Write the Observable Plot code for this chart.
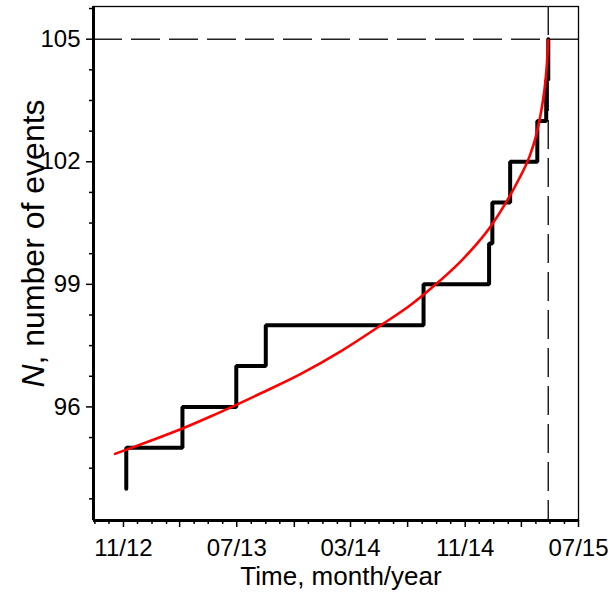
<!DOCTYPE html>
<html><head><meta charset="utf-8">
<script src="https://cdn.jsdelivr.net/npm/d3@7"></script>
<script src="https://cdn.jsdelivr.net/npm/@observablehq/plot@0.6"></script>
<style>body{margin:0;background:#fff} svg{display:block}</style>
</head><body><div id="chart"></div>
<script>
// Observed events (date of event, cumulative count after it)
const stepDates = ["2012-11-07","2012-11-07","2013-03-07","2013-06-30","2013-09-01","2014-08-04","2014-12-22","2014-12-29","2015-02-05","2015-04-04","2015-04-23","2015-04-27T10:00"];
const stepN = [94,95,96,97,98,99,100,101,102,103,104,105];
// Fitted curve (red)
const fitDates = ["2012-10-14","2012-12-29","2013-03-07","2013-05-07","2013-06-30","2013-09-01","2013-11-15","2014-02-08","2014-05-05","2014-07-08","2014-08-24","2014-10-23","2014-11-28","2014-12-26","2015-01-27","2015-02-23","2015-03-19","2015-04-01","2015-04-08","2015-04-15","2015-04-21","2015-04-24T14:00","2015-04-27T10:00"];
const fitN = [94.85,95.17,95.47,95.77,96.05,96.39,96.81,97.36,98.0,98.5,98.94,99.57,100.02,100.43,101.0,101.56,102.15,102.62,102.98,103.42,103.93,104.4,104.97];
const failureDate = "2015-04-27T10:00";
const failureN = 105;
const xLabelTicks = ["2012-11-01","2013-07-01","2014-03-01","2014-11-01","2015-07-01"];
const yLabelTicks = [96, 99, 102, 105];
const xDomain = ["2012-08-29","2015-07-01"];
const yDomain = [93.22, 105.8];
const xTitle = "Time, month/year";
const yTitle = ["N", ", number of events"];

const D = s => new Date(s.length > 10 ? s + ":00Z" : s + "T00:00:00Z");
const steps = stepDates.map((d, i) => ({t: D(d), n: stepN[i]}));
const fit = fitDates.map((d, i) => ({t: D(d), n: fitN[i]}));
const x0 = D(xDomain[0]), x1 = D(xDomain[1]);
const monthTicks = d3.utcMonth.range(d3.utcMonth.ceil(x0), d3.utcDay.offset(x1, 1));
const majorMonthTicks = monthTicks.filter(d => (d.getUTCMonth() + 2) % 4 === 0);
const minorMonthTicks = monthTicks.filter(d => (d.getUTCMonth() + 2) % 4 !== 0);
const yMinor = d3.range(0, 17).map(k => 93.75 + 0.75 * k).filter(v => v <= yDomain[1] && !yLabelTicks.includes(v));
const fmt = d3.utcFormat("%m/%y");
const iso = d3.utcFormat("%Y-%m-%d");
const labelSet = new Set(xLabelTicks);
const empty = () => "";
const yTitleText = yTitle.join("");

const chart = Plot.plot({
  width: 608, height: 592,
  marginLeft: 93, marginRight: 30, marginTop: 6, marginBottom: 72,
  style: {fontFamily: "'Liberation Sans', Arial, sans-serif", fontSize: "24px", color: "#000", background: "#fff", overflow: "visible"},
  x: {type: "utc", domain: [x0, x1], label: null},
  y: {domain: yDomain, label: null},
  marks: [
    Plot.frame({stroke: "#000", strokeWidth: 1.3}),
    Plot.ruleY([failureN], {stroke: "#222", strokeWidth: 1.5, strokeDasharray: "29,9"}),
    Plot.ruleX([D(failureDate)], {stroke: "#222", strokeWidth: 1.5, strokeDasharray: "29,9"}),
    Plot.axisX(minorMonthTicks, {tickSize: 4, tickFormat: empty, strokeWidth: 1.5, label: null}),
    Plot.axisX(majorMonthTicks, {tickSize: 7, tickPadding: 11, strokeWidth: 1.5, label: null, fontSize: 24,
      tickFormat: d => labelSet.has(iso(d)) ? fmt(d) : ""}),
    Plot.axisY(yMinor, {tickSize: 4, tickFormat: empty, strokeWidth: 1.5, label: null}),
    Plot.axisY(yLabelTicks, {tickSize: 7, tickPadding: 6, strokeWidth: 1.5, label: null, fontSize: 24}),
    Plot.ruleX([x0], {stroke: "#000", strokeWidth: 3}),
    Plot.ruleY([yDomain[0]], {stroke: "#000", strokeWidth: 3}),
    Plot.line(steps, {x: "t", y: "n", curve: "step-after", stroke: "#000", strokeWidth: 4, strokeLinejoin: "miter"}),
    Plot.line(fit, {x: "t", y: "n", curve: "monotone-x", stroke: "#f00", strokeWidth: 2.6}),
    Plot.text([xTitle], {frameAnchor: "bottom", dy: 56, dx: 5, fontSize: 26, lineAnchor: "middle"}),
    Plot.text([yTitleText], {frameAnchor: "left", dx: -60, dy: -20, rotate: -90, fontSize: 32, textAnchor: "middle", lineAnchor: "middle"})
  ]
});
document.getElementById("chart").append(chart);
// italic N in the y-axis title
const ns = "http://www.w3.org/2000/svg";
for (const t of chart.querySelectorAll("text")) {
  if (t.textContent === yTitleText) {
    t.textContent = "";
    const a = document.createElementNS(ns, "tspan");
    a.setAttribute("font-style", "italic");
    a.textContent = yTitle[0];
    const b = document.createElementNS(ns, "tspan");
    b.textContent = yTitle[1];
    t.append(a, b);
  }
}
</script>
</body></html>
